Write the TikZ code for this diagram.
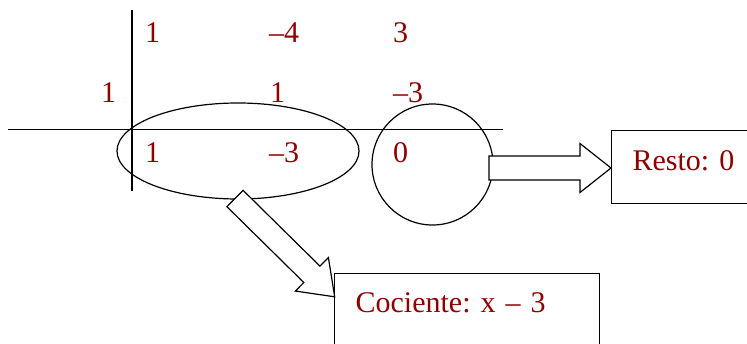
\documentclass[tikz,border=0pt]{standalone}
\usepackage{tikz}
\usepackage{xcolor}
\usepackage{fontspec}
\setmainfont{Liberation Serif}
\usetikzlibrary{shapes.geometric}
\definecolor{numred}{RGB}{140,0,0}
\frenchspacing

\begin{document}
\begin{tikzpicture}[x=1pt,y=-1pt,
  num/.style={anchor=base west,inner sep=0pt,text=numred,font=\fontsize{30}{36}\selectfont},
  res/.style={draw,line width=1.3pt,anchor=north west,align=left,inner ysep=0pt,inner xsep=21pt,text=numred,font=\fontsize{30}{36}\selectfont},
  ring/.style={draw,line width=1.2pt,inner sep=0pt},
  blockarrow/.style={draw,fill=white,line width=1.2pt,line join=miter}]
\useasboundingbox (0,0) rectangle (747,343);
\draw[line width=1.7pt] (132,10) -- (132,191);
\draw[line width=1.7pt] (8,129.5) -- (503,129.5);
\node[num] (a1) at (145,42) {1};
\node[num] (a2) at (269,42) {--4};
\node[num] (a3) at (393,42) {3};
\node[num] (r) at (101,102) {1};
\node[num] (b2) at (270,102) {1};
\node[num] (b3) at (393,102) {--3};
\node[num] (c1) at (145,162) {1};
\node[num] (c2) at (269,162) {--3};
\node[num] (c3) at (393,162) {0};
\node[ring,ellipse,minimum width=242,minimum height=96] (quot) at (238,151) {};
\node[ring,circle,minimum size=121] (rem) at (432.5,164.5) {};
\node[res,text width=130,text height=40,text depth=33] (resto) at (611,130) {Resto: 0};
\node[res,text width=223,text height=39,text depth=60] (coc) at (334,273) {Cociente: x -- 3};
\coordinate (rs) at (489,168);
\coordinate (ds) at (235,198.5);
\begin{scope}[shift={(rs)}]
\draw[blockarrow] (0,-12) -- (91,-12) -- (91,-24.5) -- (resto.west |- rs) -- (91,24.5) -- (91,12) -- (0,12) -- cycle;
\end{scope}
\begin{scope}[shift={(ds)},rotate=-44.6]
\draw[blockarrow] (0,-11.5) -- (108,-11.5) -- (108,-23.5) -- (140,0) -- (108,23.5) -- (108,11.5) -- (0,11.5) -- cycle;
\end{scope}
\end{tikzpicture}
\end{document}
